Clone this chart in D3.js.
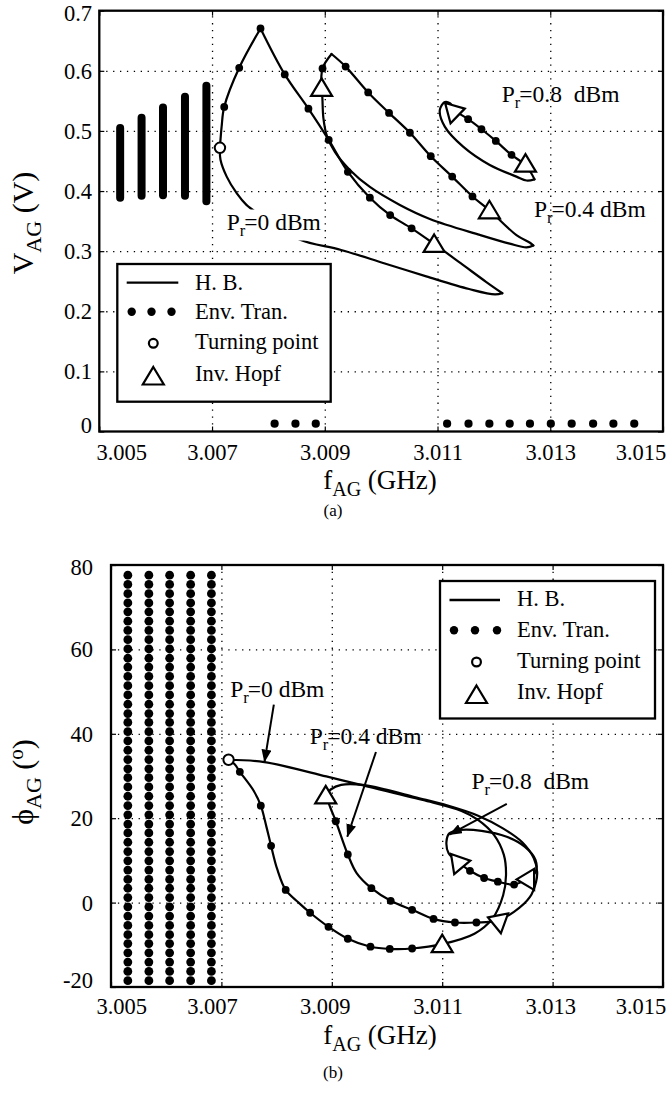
<!DOCTYPE html>
<html>
<head>
<meta charset="utf-8">
<script src="https://cdn.jsdelivr.net/npm/d3@7"></script>
<style>
  body { margin: 0; background: #fff; }
  svg { display: block; }
  svg text { font-family: "Liberation Serif", "Times New Roman", Times, serif; fill: #000; }
</style>
</head>
<body>
<svg id="fig" width="666" height="1094"></svg>
<script>
// ---------- axis values ----------
const fTicks = [3.005, 3.007, 3.009, 3.011, 3.013, 3.015];
const fTickLabels = ["3.005", "3.007", "3.009", "3.011", "3.013", "3.015"];
const vTicks = [0, 0.1, 0.2, 0.3, 0.4, 0.5, 0.6, 0.7];
const vTickLabels = ["0", "0.1", "0.2", "0.3", "0.4", "0.5", "0.6", "0.7"];
const phiTicks = [-20, 0, 20, 40, 60, 80];
const phiTickLabels = ["-20", "0", "20", "40", "60", "80"];
const powerLabels = ["0", "0.4", "0.8 "];
const legendNames = ["H. B.", "Env. Tran.", "Turning point", "Inv. Hopf"];

// ---------- (a) amplitude V_AG versus f_AG ----------
// harmonic-balance branches, [f (GHz), V]
const hbA_P0_rise = [[3.00714,0.472],[3.00717,0.507],[3.007216,0.540],[3.007482,0.605],[3.00786,0.6705]];
const hbA_P0_fall = [[3.00786,0.6705],[3.00829,0.594],[3.00871,0.537],[3.00907,0.485],[3.00941,0.432],[3.0098,0.389],
  [3.01016,0.360],[3.01054,0.338],[3.01094,0.312],[3.01141,0.280],[3.01186,0.249],[3.01215,0.230]];
const hbA_P0_back = [[3.01215,0.230],[3.01202,0.228],[3.01156,0.237],[3.0108,0.258],[3.01005,0.280],[3.00929,0.302],
  [3.00856,0.319],[3.00808,0.346],[3.00761,0.377],[3.00744,0.396],[3.00726,0.424],[3.00715,0.452],[3.00714,0.472]];
const hbA_P4_rise = [[3.008943,0.5716],[3.00896,0.604],[3.00912,0.628]];
const hbA_P4_fall = [[3.00912,0.628],[3.00937,0.607],[3.00977,0.564],[3.01014,0.530],[3.01051,0.497],[3.01088,0.458],
  [3.01126,0.424],[3.01162,0.391],[3.01192,0.368],[3.0124,0.3267],[3.01264,0.314],[3.0127,0.3095]];
const hbA_P4_back = [[3.0127,0.3095],[3.01258,0.3063],[3.01228,0.3125],[3.01175,0.327],[3.010864,0.3536],[3.010332,0.3769],
  [3.0098,0.4068],[3.009445,0.4351],[3.009179,0.4651],[3.009037,0.4917],[3.008975,0.5216],[3.008957,0.555],[3.008943,0.5716]];
const hbA_P8_fall = [[3.011324,0.5321],[3.011543,0.5195],[3.01178,0.5028],[3.012034,0.4834],[3.012312,0.4601],
  [3.012536,0.4451],[3.01266,0.430],[3.01272,0.4195]];
const hbA_P8_back = [[3.01272,0.4195],[3.01258,0.4175],[3.0124,0.424],[3.011927,0.4434],[3.011454,0.4739],[3.011129,0.5072],
  [3.011041,0.535],[3.01113,0.548],[3.01122,0.546],[3.011324,0.5321]];

// envelope-transient samples lying on the curves
const envA_P0 = [[3.007216,0.540],[3.007482,0.605],[3.00786,0.6705],[3.00829,0.594],[3.00871,0.537],[3.00907,0.485],
  [3.00941,0.432],[3.0098,0.389],[3.01016,0.360],[3.01054,0.338]];
const envA_P4 = [[3.00896,0.604],[3.00937,0.607],[3.00977,0.564],[3.01014,0.530],[3.01051,0.497],[3.01088,0.458],
  [3.01126,0.424],[3.01162,0.391]];
const envA_P8 = [[3.011543,0.5195],[3.01178,0.5028],[3.012034,0.4834],[3.012312,0.4601]];
// quasi-periodic regime: amplitude spread of the sampled envelope
const envBarF_A = [3.00537, 3.00575, 3.00613, 3.00652, 3.0069];
const envBarLo_A = [0.389, 0.392, 0.393, 0.392, 0.383];
const envBarHi_A = [0.505, 0.522, 0.539, 0.557, 0.575];
// samples where the oscillation is extinguished
const envOffF_A = [3.00811, 3.00848, 3.00884, 3.01117, 3.01155, 3.01192, 3.01228, 3.01264, 3.01301, 3.01338, 3.01376, 3.01412, 3.01449];
const envOffV_A = 0.013;

const turningA = [[3.00714, 0.472]];
const hopfA = [[3.008943,0.5716],[3.01094,0.312],[3.01192,0.368],[3.01132,0.533],[3.01256,0.4455]];
const hopfTiltA = [0, 0, 0, 75, 0];

// ---------- (b) phase phi_AG versus f_AG ----------
const hbB_P0 = [[3.00713,33.85],[3.00724,32.8],[3.007334,31.0],[3.007582,26.56],[3.007714,22.97],[3.007815,18.0],[3.0079,13.45],
  [3.00801,7.97],[3.008165,3.0],[3.008398,0.0],[3.008607,-2.4],[3.00894,-5.74],[3.00929,-8.57],[3.0097,-10.45],[3.01005,-10.97],
  [3.010455,-10.88],[3.011,-9.85],[3.011584,-7.38],[3.011909,-3.8],[3.012104,1.75],[3.012156,6.5],[3.012117,11.3],
  [3.011941,16.0],[3.011649,19.6],[3.01135,21.7],[3.01065,24.3],[3.00949,28.0],[3.0089,29.9],[3.00778,33.3],[3.00713,33.85]];
const hbB_P4 = [[3.00889,25.4],[3.00898,22.3],[3.009073,19.28],[3.00929,11.4],[3.00945,7.0],[3.009717,3.43],[3.010067,0.43],
  [3.010455,-1.71],[3.010843,-3.86],[3.011231,-4.71],[3.01162,-4.71],[3.011992,-4.28],[3.0123,-2.2],[3.01259,1.35],[3.0127,4.9],
  [3.01272,7.3],[3.01266,10.5],[3.01245,14.3],[3.0121,17.6],[3.01165,20.6],[3.0111,23.0],[3.0105,25.0],[3.01,26.7],
  [3.00956,27.9],[3.00917,27.9],[3.00898,26.8],[3.00889,25.4]];
const hbB_P8 = [[3.01127,9.8],[3.011503,7.54],[3.011759,5.83],[3.012008,4.97],[3.012303,4.28],[3.01252,5.5],[3.01269,7.2],
  [3.01269,10.1],[3.012494,13.25],[3.012169,15.6],[3.011714,17.0],[3.011324,17.2],[3.011129,16.4],[3.011077,14.4],
  [3.011116,11.7],[3.01127,9.8]];

const envB_P0 = [[3.007334,31.0],[3.007714,22.97],[3.0079,13.45],[3.008165,3.0],[3.008607,-2.4],[3.00894,-5.74],
  [3.00929,-8.57],[3.0097,-10.45],[3.01005,-10.97],[3.010455,-10.88]];
const envB_P4 = [[3.009073,19.28],[3.00929,11.4],[3.009717,3.43],[3.010067,0.43],[3.010455,-1.71],[3.010843,-3.86],
  [3.011231,-4.71],[3.01162,-4.71]];
const envB_P8 = [[3.011503,7.54],[3.011759,5.83],[3.012008,4.97],[3.012303,4.28]];
// quasi-periodic regime: phase samples of each run
const envColF_B = [3.005305, 3.005686, 3.006062, 3.006443, 3.006819];
const envPhaseSamples = [77.6, 75.4, 73.2, 71.0, 68.9, 66.7, 64.5, 62.3, 60.1, 57.9, 55.8, 53.6, 51.4, 49.2, 47.0,
  44.8, 42.7, 40.5, 38.3, 36.1, 33.9, 31.7, 29.6, 27.4, 25.2, 23.0, 20.8, 18.6, 16.5, 14.3, 12.1, 9.9, 7.7, 5.5,
  3.4, 1.2, -1.0, -3.2, -5.4, -7.6, -9.7, -11.9, -14.1, -16.3, -18.5];

const turningB = [[3.00713, 33.85]];
const hopfB = [[3.00889,25.4],[3.011,-9.85],[3.011992,-4.28],[3.01127,9.8],[3.01252,5.5]];
const hopfTiltB = [0, 0, -70, -40, -90];

// annotation anchors (data coordinates)
const labelPosA = [[3.00726, 0.336], [3.01271, 0.357], [3.01214, 0.548]];
const labelPosB = [[3.00716, 48.8], [3.0086, 37.7], [3.01153, 26.9]];
const calloutB = [
  [[3.00795, 46.9], [3.00778, 33.3]],
  [[3.0098, 35.7], [3.00928, 15.6]],
  [[3.01217, 23.4], [3.01113, 16.1]]
];

// ---------- drawing ----------
const svg = d3.select("#fig");

svg.append("defs").append("marker")
  .attr("id", "head").attr("viewBox", "0 0 13 10").attr("refX", 12.5).attr("refY", 5)
  .attr("markerWidth", 13).attr("markerHeight", 10).attr("markerUnits", "userSpaceOnUse")
  .attr("orient", "auto")
  .append("path").attr("d", "M0,0 L13,5 L0,10 Z").attr("fill", "#000");

const boxA = {left: 99.3, right: 663, top: 10.7, bottom: 431.5};
const boxB = {left: 111, right: 663, top: 565, bottom: 987};

const xA = d3.scaleLinear().domain([3.005, 3.015]).range([boxA.left, boxA.right]);
const yA = d3.scaleLinear().domain([0, 0.7]).range([boxA.bottom, boxA.top]);
const xB = d3.scaleLinear().domain([3.005, 3.015]).range([boxB.left, boxB.right]);
const yB = d3.scaleLinear().domain([-20, 80]).range([boxB.bottom, boxB.top]);

const triPath = "M0,-9.5 L10.5,8 L-10.5,8 Z";
const TICK_FONT = 22.5;

function gridLines(g, x, y, box, xt, yt) {
  const h = box.bottom - box.top, w = box.right - box.left;
  g.append("g").attr("transform", `translate(0,${box.bottom})`)
    .call(d3.axisBottom(x).tickValues(xt.slice(1, -1)).tickSize(-h).tickFormat(""))
    .call(s => s.select(".domain").remove())
    .selectAll("line").attr("stroke", "#000").attr("stroke-width", 1.3).attr("stroke-dasharray", "1.3,5.6");
  g.append("g").attr("transform", `translate(${box.left},0)`)
    .call(d3.axisLeft(y).tickValues(yt.slice(1, -1)).tickSize(-w).tickFormat(""))
    .call(s => s.select(".domain").remove())
    .selectAll("line").attr("stroke", "#000").attr("stroke-width", 1.3).attr("stroke-dasharray", "1.3,5.6");
  // short inward ticks on all four sides
  const tk = 5;
  const sides = [
    [d3.axisBottom(x).tickValues(xt), `translate(0,${box.bottom})`],
    [d3.axisTop(x).tickValues(xt), `translate(0,${box.top})`],
    [d3.axisLeft(y).tickValues(yt), `translate(${box.left},0)`],
    [d3.axisRight(y).tickValues(yt), `translate(${box.right},0)`]
  ];
  sides.forEach(([ax, tr]) => {
    g.append("g").attr("transform", tr)
      .call(ax.tickSize(-tk).tickFormat(""))
      .call(q => q.select(".domain").remove())
      .selectAll("line").attr("stroke", "#000").attr("stroke-width", 1.2);
  });
}

function frame(g, box) {
  g.append("rect").attr("x", box.left).attr("y", box.top)
    .attr("width", box.right - box.left).attr("height", box.bottom - box.top)
    .attr("fill", "none").attr("stroke", "#000").attr("stroke-width", 2.3);
}

function xTickLabels(g, labelScale, baseY) {
  const last = fTicks.length - 1;
  g.append("g").attr("transform", `translate(0,${baseY})`)
    .call(d3.axisBottom(labelScale).tickValues(fTicks).tickSize(0).tickPadding(0)
      .tickFormat((d, i) => fTickLabels[i]))
    .call(s => s.select(".domain").remove())
    .selectAll("text")
      .attr("y", 0).attr("dy", null)
      .attr("x", (d, i) => i === 0 ? 22 : (i === last ? -22.5 : 0))
      .attr("font-size", TICK_FONT);
}

function yTickLabels(g, y, ticks, labels, rightX) {
  const last = ticks.length - 1;
  g.append("g").attr("transform", `translate(${rightX},0)`)
    .call(d3.axisLeft(y).tickValues(ticks).tickSize(0).tickPadding(0)
      .tickFormat((d, i) => labels[i]))
    .call(s => s.select(".domain").remove())
    .selectAll("text")
      .attr("x", 0).attr("dy", "0.33em")
      .attr("y", (d, i) => i === 0 ? -6.5 : (i === last ? 2 : 0))
      .attr("font-size", TICK_FONT);
}

function curves(g, x, y, segs) {
  const line = d3.line().x(d => x(d[0])).y(d => y(d[1])).curve(d3.curveCatmullRom.alpha(0.5));
  g.append("g").selectAll("path").data(segs).join("path")
    .attr("d", line).attr("fill", "none").attr("stroke", "#000")
    .attr("stroke-width", 2.2).attr("stroke-linejoin", "round").attr("stroke-linecap", "round");
}

function dots(g, x, y, pts, r) {
  g.append("g").selectAll("circle").data(pts).join("circle")
    .attr("cx", d => x(d[0])).attr("cy", d => y(d[1])).attr("r", r).attr("fill", "#000");
}

function turning(g, x, y, pts) {
  g.append("g").selectAll("circle").data(pts).join("circle")
    .attr("cx", d => x(d[0])).attr("cy", d => y(d[1])).attr("r", 5.2)
    .attr("fill", "#fff").attr("stroke", "#000").attr("stroke-width", 2);
}

function hopf(g, x, y, pts, tilt) {
  g.append("g").selectAll("path").data(pts).join("path")
    .attr("d", triPath)
    .attr("transform", (d, i) => `translate(${x(d[0])},${y(d[1])}) rotate(${tilt[i]})`)
    .attr("fill", "#fff").attr("stroke", "#000").attr("stroke-width", 2.2).attr("stroke-linejoin", "miter");
}

function powerLabel(g, px, py, value, withBack) {
  const t = g.append("text").attr("x", px).attr("y", py)
    .attr("font-size", 23.5).style("white-space", "pre");
  t.append("tspan").text("P");
  t.append("tspan").attr("dy", 6).attr("font-size", 16.5).text("r");
  t.append("tspan").attr("dy", -6).attr("dx", -1).text("=" + value + " dBm");
  if (withBack) {
    const b = t.node().getBBox();
    g.insert("rect", () => t.node())
      .attr("x", b.x - 1).attr("y", b.y + 1).attr("width", b.width + 2).attr("height", b.height)
      .attr("fill", "#fff");
  }
}

function legend(g, cfg) {
  g.append("rect").attr("x", cfg.x).attr("y", cfg.y).attr("width", cfg.w).attr("height", cfg.h)
    .attr("fill", "#fff").attr("stroke", "#000").attr("stroke-width", 2.3);
  g.append("line").attr("x1", cfg.lineX[0]).attr("x2", cfg.lineX[1])
    .attr("y1", cfg.markY[0]).attr("y2", cfg.markY[0])
    .attr("stroke", "#000").attr("stroke-width", 2.3);
  g.append("g").selectAll("circle").data(cfg.dotX).join("circle")
    .attr("cx", d => d).attr("cy", cfg.markY[1]).attr("r", 4.2).attr("fill", "#000");
  g.append("circle").attr("cx", cfg.symX).attr("cy", cfg.markY[2]).attr("r", 4.4)
    .attr("fill", "#fff").attr("stroke", "#000").attr("stroke-width", 2.2);
  g.append("path").attr("d", triPath).attr("transform", `translate(${cfg.symX},${cfg.markY[3]})`)
    .attr("fill", "#fff").attr("stroke", "#000").attr("stroke-width", 2.2);
  g.append("g").selectAll("text").data(legendNames).join("text")
    .attr("x", cfg.textX).attr("y", (d, i) => cfg.textY[i])
    .attr("font-size", 22.5).text(d => d);
}

function subLabel(g, tx, ty, rot, main, sub, rest, size, subSize, sup) {
  const t = g.append("text")
    .attr("transform", `translate(${tx},${ty}) rotate(${rot})`)
    .attr("text-anchor", "middle").attr("font-size", size);
  t.append("tspan").text(main);
  t.append("tspan").attr("dy", subSize * 0.36).attr("font-size", subSize).text(sub);
  t.append("tspan").attr("dy", -subSize * 0.36).text(rest);
  if (sup) {
    t.append("tspan").attr("dy", -size * 0.35).attr("font-size", size * 0.7).text(sup);
    t.append("tspan").attr("dy", size * 0.35).text(")");
  }
}

// ----- panel (a) -----
const gA = svg.append("g");
gridLines(gA, xA, yA, boxA, fTicks, vTicks);
curves(gA, xA, yA, [hbA_P0_rise, hbA_P0_fall, hbA_P0_back, hbA_P4_rise, hbA_P4_fall, hbA_P4_back, hbA_P8_fall, hbA_P8_back]);
gA.append("g").selectAll("line").data(envBarF_A).join("line")
  .attr("x1", d => xA(d)).attr("x2", d => xA(d))
  .attr("y1", (d, i) => yA(envBarLo_A[i])).attr("y2", (d, i) => yA(envBarHi_A[i]))
  .attr("stroke", "#000").attr("stroke-width", 8).attr("stroke-linecap", "round");
dots(gA, xA, yA, envOffF_A.map(f => [f, envOffV_A]), 4.1);
dots(gA, xA, yA, envA_P0.concat(envA_P4, envA_P8), 3.9);
powerLabel(gA, xA(labelPosA[0][0]), yA(labelPosA[0][1]), powerLabels[0], true);
powerLabel(gA, xA(labelPosA[1][0]), yA(labelPosA[1][1]), powerLabels[1], false);
powerLabel(gA, xA(labelPosA[2][0]), yA(labelPosA[2][1]), powerLabels[2], false);
hopf(gA, xA, yA, hopfA, hopfTiltA);
turning(gA, xA, yA, turningA);
legend(gA, {x: 117.3, y: 264, w: 213.4, h: 137.7, lineX: [126.7, 178.3], dotX: [131.7, 151.5, 171.5],
  symX: 153.3, markY: [282.7, 311.7, 343.3, 376.5], textX: 195, textY: [289.5, 319, 349, 380.5]});
frame(gA, boxA);
xTickLabels(gA, xA, boxA.bottom + 28);
yTickLabels(gA, yA, vTicks, vTickLabels, 92);
subLabel(gA, 380, 489, 0, "f", "AG", " (GHz)", 27, 20);
subLabel(gA, 33, 223, -90, "V", "AG", " (V)", 30, 22);
gA.append("text").attr("x", 333).attr("y", 516).attr("text-anchor", "middle")
  .attr("font-size", 17).text("(a)");

// ----- panel (b) -----
const gB = svg.append("g");
gridLines(gB, xB, yB, boxB, fTicks, phiTicks);
curves(gB, xB, yB, [hbB_P0, hbB_P4, hbB_P8]);
envColF_B.forEach(f => dots(gB, xB, yB, envPhaseSamples.map(p => [f, p]), 4.4));
dots(gB, xB, yB, envB_P0.concat(envB_P4, envB_P8), 3.9);
hopf(gB, xB, yB, hopfB, hopfTiltB);
turning(gB, xB, yB, turningB);
gB.append("g").selectAll("line").data(calloutB).join("line")
  .attr("x1", d => xB(d[0][0])).attr("y1", d => yB(d[0][1]))
  .attr("x2", d => xB(d[1][0])).attr("y2", d => yB(d[1][1]))
  .attr("stroke", "#000").attr("stroke-width", 2).attr("marker-end", "url(#head)");
labelPosB.forEach((p, i) => powerLabel(gB, xB(p[0]), yB(p[1]), powerLabels[i], false));
legend(gB, {x: 440, y: 581, w: 215, h: 137.5, lineX: [449.5, 500], dotX: [454, 475, 497],
  symX: 476.5, markY: [600, 630.2, 662, 695], textX: 517, textY: [606, 636.5, 667.5, 699]});
frame(gB, boxB);
xTickLabels(gB, xA, boxB.bottom + 27);
yTickLabels(gB, yB, phiTicks, phiTickLabels, 93);
subLabel(gB, 380, 1044, 0, "f", "AG", " (GHz)", 27, 20);
subLabel(gB, 33, 782, -90, "\u03D5", "AG", " (", 30, 22, "o");
gB.append("text").attr("x", 333).attr("y", 1078).attr("text-anchor", "middle")
  .attr("font-size", 17).text("(b)");
</script>
</body>
</html>
